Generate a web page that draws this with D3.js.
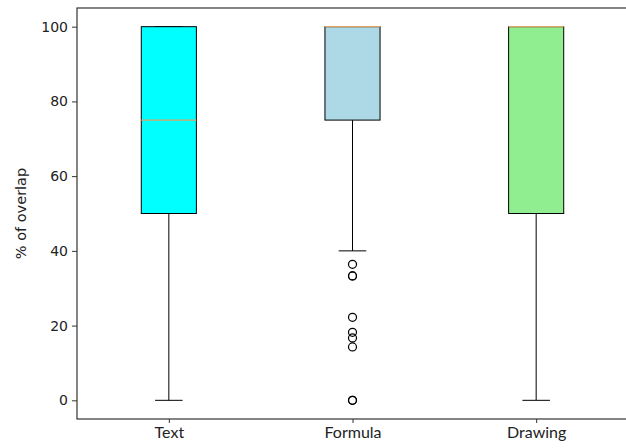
<!DOCTYPE html>
<html>
<head>
<meta charset="utf-8">
<script src="https://cdn.jsdelivr.net/npm/d3@7"></script>
<style>
  body { margin: 0; background: #fff; }
  svg { display: block; }
</style>
</head>
<body>
<svg width="626" height="448"></svg>
<script>
// data
const categories = ["Text", "Formula", "Drawing"];
const boxColors = ["#00ffff", "#add8e6", "#90ee90"];
const whiskerLow = [0, 40, 0];
const q1 = [50, 75, 50];
const median = [75, 100, 100];
const q3 = [100, 100, 100];
const whiskerHigh = [100, 100, 100];
const outliers = [[], [36.4, 33.3, 33.3, 22.2, 18.2, 16.7, 14.3, 0, 0], []];
const yTicks = [0, 20, 40, 60, 80, 100];

const svg = d3.select("svg");
const plotLeft = 77, plotRight = 628, plotTop = 8, plotBottom = 419;

const x = d3.scaleLinear().domain([0.5, 3.5]).range([plotLeft, plotRight]);
const y = d3.scaleLinear().domain([-5, 105]).range([plotBottom, plotTop]);
const boxW = x(1.15) - x(0.85);
const capW = boxW / 2;

// axes
let yAxis = svg.append("g")
  .attr("transform", "translate(" + plotLeft + ",0)")
  .call(d3.axisLeft(y).tickValues(yTicks).tickSize(5).tickPadding(4));
yAxis.select(".domain").remove();
yAxis.selectAll("line").attr("stroke", "#333");
yAxis.selectAll("text")
  .style("font-family", "'DejaVu Sans'")
  .style("font-size", "14px")
  .attr("fill", "#222");

let xAxis = svg.append("g")
  .attr("transform", "translate(0," + plotBottom + ")")
  .call(d3.axisBottom(x).tickValues([1, 2, 3]).tickSize(4).tickPadding(4)
    .tickFormat(function (d) { return categories[d - 1]; }));
xAxis.select(".domain").remove();
xAxis.selectAll("line").attr("stroke", "#333");
xAxis.selectAll("text")
  .style("font-family", "Lato")
  .style("font-size", "16px")
  .attr("fill", "#222");

// spines
svg.append("rect")
  .attr("x", plotLeft).attr("y", plotTop)
  .attr("width", plotRight - plotLeft).attr("height", plotBottom - plotTop)
  .attr("fill", "none").attr("stroke", "#333").attr("stroke-width", 1.2);

// y label
svg.append("text")
  .attr("transform", "translate(21," + (plotTop + plotBottom) / 2 + ") rotate(-90)")
  .attr("text-anchor", "middle")
  .attr("dy", "0.35em")
  .style("font-family", "'DejaVu Sans'")
  .style("font-size", "14.5px")
  .attr("fill", "#222")
  .text("% of overlap");

// boxes
const boxes = svg.append("g").selectAll("g")
  .data(categories)
  .enter()
  .append("g");

boxes.each(function (d, i) {
  let g = d3.select(this);
  let cx = x(i + 1);
  // whiskers
  g.append("line")
    .attr("x1", cx).attr("x2", cx)
    .attr("y1", y(q1[i])).attr("y2", y(whiskerLow[i]))
    .attr("stroke", "#000");
  g.append("line")
    .attr("x1", cx).attr("x2", cx)
    .attr("y1", y(q3[i])).attr("y2", y(whiskerHigh[i]))
    .attr("stroke", "#000");
  // caps
  [whiskerLow[i], whiskerHigh[i]].forEach(function (v) {
    g.append("line")
      .attr("x1", cx - capW / 2).attr("x2", cx + capW / 2)
      .attr("y1", y(v)).attr("y2", y(v))
      .attr("stroke", "#000");
  });
  // box
  g.append("rect")
    .attr("x", cx - boxW / 2)
    .attr("y", y(q3[i]))
    .attr("width", boxW)
    .attr("height", y(q1[i]) - y(q3[i]))
    .attr("fill", boxColors[i])
    .attr("stroke", "#000");
  // median
  g.append("line")
    .attr("x1", cx - boxW / 2).attr("x2", cx + boxW / 2)
    .attr("y1", y(median[i])).attr("y2", y(median[i]))
    .attr("stroke", "#e0a060")
    .attr("stroke-width", 1.2);
  // fliers
  g.selectAll("circle")
    .data(outliers[i])
    .enter()
    .append("circle")
    .attr("cx", cx)
    .attr("cy", function (v) { return y(v); })
    .attr("r", 4)
    .attr("fill", "none")
    .attr("stroke", "#000")
    .attr("stroke-width", 1.2);
});
</script>
</body>
</html>
